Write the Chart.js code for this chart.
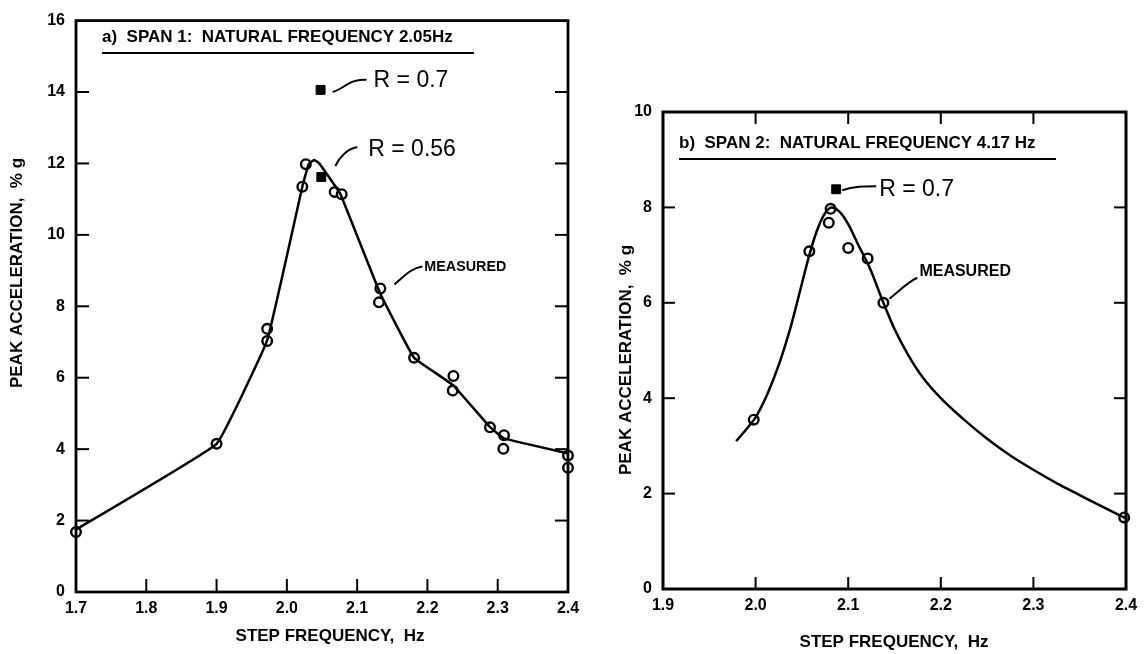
<!DOCTYPE html>
<html lang="en">
<head>
  <meta charset="UTF-8">
  <title>Peak acceleration vs step frequency</title>

  <!-- Chart.js -->
  <script src="https://cdn.jsdelivr.net/npm/chart.js"></script>

  <style>
    body {
      margin: 0;
      background: #fff;
      width: 1146px;
      height: 654px;
      position: relative;
      overflow: hidden;
    }

    canvas {
      position: absolute;
      top: 0;
    }

    #span1 { left: 0; }
    #span2 { left: 600px; }
  </style>
</head>

<body>
  <canvas id="span1" width="600" height="654"></canvas>
  <canvas id="span2" width="546" height="654"></canvas>

  <script>
    // ---- Span 1 ----
    const span1Ticks = [1.7, 1.8, 1.9, 2.0, 2.1, 2.2, 2.3, 2.4];
    const span1AccTicks = [0, 2, 4, 6, 8, 10, 12, 14, 16];

    // measured response curve
    const span1LineFreq = [1.70, 1.90, 1.972, 2.022, 2.031, 2.039, 2.046, 2.057, 2.076, 2.133, 2.181, 2.236, 2.289, 2.309, 2.40];
    const span1LineAcc  = [1.75, 4.15, 7.05, 11.35, 11.98, 12.1, 12.0, 11.7, 11.15, 8.35, 6.56, 5.8, 4.62, 4.3, 3.88];

    // measured points
    const span1MeasFreq = [1.70, 1.90, 1.972, 1.972, 2.022, 2.027, 2.068, 2.078, 2.133, 2.131, 2.181, 2.237, 2.236, 2.289, 2.309, 2.308, 2.40, 2.40];
    const span1MeasAcc  = [1.68, 4.15, 7.37, 7.03, 11.35, 11.98, 11.2, 11.14, 8.5, 8.11, 6.56, 6.05, 5.64, 4.61, 4.39, 4.01, 3.82, 3.48];

    // calculated peaks
    const span1CalcFreq = [2.048, 2.049];
    const span1CalcAcc  = [14.06, 11.62];
    const span1CalcR    = ['0.7', '0.56'];

    // ---- Span 2 ----
    const span2Ticks = [1.9, 2.0, 2.1, 2.2, 2.3, 2.4];
    const span2AccTicks = [0, 2, 4, 6, 8, 10];

    const span2LineFreq = [1.979, 1.99, 2.0, 2.013, 2.026, 2.038, 2.048, 2.058, 2.066, 2.074, 2.082, 2.09, 2.1, 2.11, 2.124, 2.138, 2.15, 2.165, 2.18, 2.2, 2.225, 2.25, 2.275, 2.3, 2.325, 2.35, 2.375, 2.4];
    const span2LineAcc  = [3.1, 3.35, 3.6, 4.1, 4.75, 5.5, 6.25, 7.0, 7.5, 7.85, 8.0, 7.92, 7.65, 7.25, 6.7, 6.0, 5.45, 4.9, 4.45, 4.0, 3.55, 3.15, 2.8, 2.5, 2.22, 1.97, 1.72, 1.48];

    const span2MeasFreq = [1.998, 2.058, 2.081, 2.079, 2.100, 2.121, 2.138, 2.398];
    const span2MeasAcc  = [3.55, 7.08, 7.97, 7.68, 7.15, 6.93, 6.0, 1.5];

    const span2CalcFreq = [2.087];
    const span2CalcAcc  = [8.38];
    const span2CalcR    = ['0.7'];

    const FONT = "'Liberation Sans', Arial, sans-serif";
    const pts = (xs, ys) => xs.map((v, i) => ({ x: v, y: ys[i] }));

    // frame, inward tick marks, in-plot heading and axis titles
    const framePlugin = {
      id: 'frame',
      afterDatasetsDraw(chart, args, o) {
        const { ctx, chartArea: a, scales: { x, y } } = chart;
        const seg = (x1, y1, x2, y2) => {
          ctx.beginPath(); ctx.moveTo(x1, y1); ctx.lineTo(x2, y2); ctx.stroke();
        };
        ctx.save();
        ctx.strokeStyle = '#000';
        ctx.lineWidth = o.width;
        ctx.strokeRect(a.left, a.top, a.right - a.left, a.bottom - a.top);

        ctx.lineWidth = 2;
        x.ticks.forEach(t => {
          if (t.value <= x.min || t.value >= x.max) return;
          const px = x.getPixelForValue(t.value);
          seg(px, a.bottom, px, a.bottom - o.len);
          if (o.top) seg(px, a.top, px, a.top + o.len);
        });
        y.ticks.forEach(t => {
          if (t.value <= y.min || t.value >= y.max) return;
          const py = y.getPixelForValue(t.value);
          seg(a.left, py, a.left + o.len, py);
          seg(a.right, py, a.right - o.len, py);
        });

        // heading with underline
        ctx.fillStyle = '#000';
        ctx.font = 'bold 17px ' + FONT;
        ctx.textAlign = 'left';
        ctx.textBaseline = 'middle';
        ctx.fillText(o.heading, o.headX, o.headY, o.headW);
        ctx.lineWidth = 2;
        seg(o.headX, o.headY + 16, o.headX + o.headW, o.headY + 16);

        // axis titles
        ctx.font = 'bold 17px ' + FONT;
        ctx.textAlign = 'center';
        ctx.fillText('STEP FREQUENCY,  Hz', o.xTitle[0], o.xTitle[1], 200);
        ctx.translate(o.yTitle[0], o.yTitle[1]);
        ctx.rotate(-Math.PI / 2);
        ctx.fillText('PEAK ACCELERATION,  % g', 0, 0, 246);
        ctx.restore();
      }
    };

    // leader lines and labels next to points
    const notesPlugin = {
      id: 'notes',
      afterDatasetsDraw(chart, args, o) {
        const { ctx, scales: { x, y } } = chart;
        ctx.save();
        ctx.strokeStyle = '#000';
        ctx.fillStyle = '#000';
        ctx.lineWidth = 2;
        o.items.forEach(n => {
          const ax = x.getPixelForValue(n.at[0]);
          const ay = y.getPixelForValue(n.at[1]);
          const [s, c1, c2, e] = n.lead;
          ctx.beginPath();
          ctx.moveTo(ax + s[0], ay + s[1]);
          ctx.bezierCurveTo(ax + c1[0], ay + c1[1], ax + c2[0], ay + c2[1], ax + e[0], ay + e[1]);
          ctx.stroke();
          ctx.font = n.font;
          ctx.textAlign = 'left';
          ctx.textBaseline = 'middle';
          ctx.fillText(n.text, ax + n.textAt[0], ay + n.textAt[1], n.maxW);
        });
        ctx.restore();
      }
    };

    function makeScales(xTicks, yTicks, xMax, yMax, yWidth, xHeight) {
      const tickFont = { family: FONT, size: 16, weight: 'bold' };
      return {
        x: {
          type: 'linear',
          min: xTicks[0],
          max: xMax,
          grid: { display: false, drawTicks: false },
          border: { display: false },
          afterBuildTicks: s => { s.ticks = xTicks.map(v => ({ value: v })); },
          afterFit: s => { s.height = xHeight; },
          ticks: {
            color: '#000',
            font: tickFont,
            padding: 7,
            maxRotation: 0,
            callback: v => Number(v).toFixed(1)
          }
        },
        y: {
          type: 'linear',
          min: 0,
          max: yMax,
          grid: { display: false, drawTicks: false },
          border: { display: false },
          afterBuildTicks: s => { s.ticks = yTicks.map(v => ({ value: v })); },
          afterFit: s => { s.width = yWidth; },
          ticks: {
            color: '#000',
            font: tickFont,
            padding: 11,
            callback: v => String(v)
          }
        }
      };
    }

    function datasets(lineF, lineA, measF, measA, calcF, calcA, cubic) {
      return [
        {
          data: pts(lineF, lineA),
          showLine: true,
          borderColor: '#000',
          borderWidth: 2.5,
          pointRadius: 0,
          tension: cubic ? 0 : 0.08,
          cubicInterpolationMode: cubic ? 'monotone' : 'default',
          clip: false
        },
        {
          data: pts(measF, measA),
          pointStyle: 'circle',
          pointRadius: 4.8,
          pointBorderWidth: 2.4,
          pointBorderColor: '#000',
          pointBackgroundColor: '#fff',
          clip: false
        },
        {
          data: pts(calcF, calcA),
          pointStyle: 'rect',
          pointRadius: 6.3,
          pointBorderWidth: 1,
          pointBorderColor: '#000',
          pointBackgroundColor: '#000',
          clip: false
        }
      ];
    }

    const common = {
      responsive: false,
      animation: false,
      events: [],
      plugins: { legend: { display: false }, tooltip: { enabled: false } }
    };

    // Span 1 chart
    new Chart(document.getElementById('span1'), {
      type: 'scatter',
      data: {
        datasets: datasets(span1LineFreq, span1LineAcc, span1MeasFreq, span1MeasAcc, span1CalcFreq, span1CalcAcc, false)
      },
      options: {
        ...common,
        layout: { padding: { left: 0, top: 16, right: 32, bottom: 0 } },
        scales: makeScales(span1Ticks, span1AccTicks, 2.4, 16, 76, 62),
        plugins: {
          ...common.plugins,
          frame: {
            width: 2.8, len: 13, top: false,
            heading: 'a)  SPAN 1:  NATURAL FREQUENCY 2.05Hz',
            headX: 102, headY: 37, headW: 372,
            xTitle: [330, 636], yTitle: [17, 273]
          },
          notes: {
            items: [
              {
                at: [span1CalcFreq[0], span1CalcAcc[0]], text: 'R = ' + span1CalcR[0],
                font: '23px ' + FONT, maxW: 90,
                lead: [[12, 2], [22, 0], [30, -12], [46, -10]], textAt: [53, -9]
              },
              {
                at: [span1CalcFreq[1], span1CalcAcc[1]], text: 'R = ' + span1CalcR[1],
                font: '23px ' + FONT, maxW: 100,
                lead: [[14, -11], [18, -20], [26, -28], [36, -30]], textAt: [47, -27]
              },
              {
                at: [span1MeasFreq[8], span1MeasAcc[8]], text: 'MEASURED',
                font: 'bold 15px ' + FONT, maxW: 82,
                lead: [[14, -4], [24, -12], [30, -20], [42, -22]], textAt: [44, -22]
              }
            ]
          }
        }
      },
      plugins: [framePlugin, notesPlugin]
    });

    // Span 2 chart
    new Chart(document.getElementById('span2'), {
      type: 'scatter',
      data: {
        datasets: datasets(span2LineFreq, span2LineAcc, span2MeasFreq, span2MeasAcc, span2CalcFreq, span2CalcAcc, true)
      },
      options: {
        ...common,
        layout: { padding: { left: 0, top: 112, right: 20, bottom: 0 } },
        scales: makeScales(span2Ticks, span2AccTicks, 2.4, 10, 63, 65),
        plugins: {
          ...common.plugins,
          frame: {
            width: 3, len: 12, top: true,
            heading: 'b)  SPAN 2:  NATURAL FREQUENCY 4.17 Hz',
            headX: 79, headY: 143, headW: 377,
            xTitle: [294, 642], yTitle: [26, 360]
          },
          notes: {
            items: [
              {
                at: [span2CalcFreq[0], span2CalcAcc[0]], text: 'R = ' + span2CalcR[0],
                font: '23px ' + FONT, maxW: 80,
                lead: [[6, 1], [18, -3], [28, -3], [40, -3]], textAt: [43, 0]
              },
              {
                at: [span2MeasFreq[6], span2MeasAcc[6]], text: 'MEASURED',
                font: 'bold 16px ' + FONT, maxW: 98,
                lead: [[6, -4], [16, -12], [26, -22], [34, -25]], textAt: [36, -31]
              }
            ]
          }
        }
      },
      plugins: [framePlugin, notesPlugin]
    });
  </script>
</body>
</html>
